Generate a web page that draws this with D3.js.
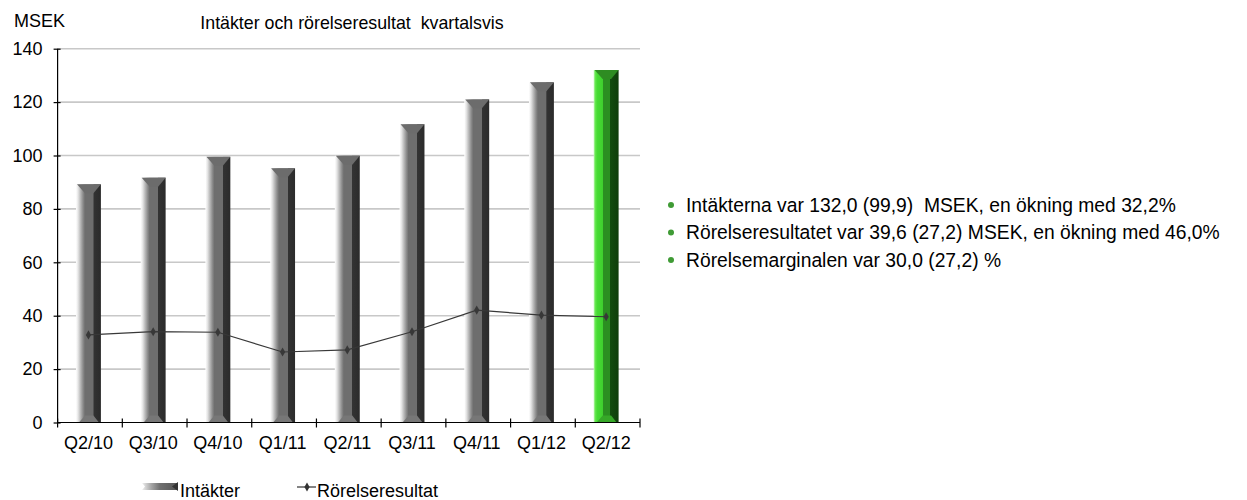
<!DOCTYPE html>
<html>
<head>
<meta charset="utf-8">
<script src="https://cdn.jsdelivr.net/npm/d3@7"></script>
<style>
  html, body { margin: 0; padding: 0; background: #fff; }
  svg { display: block; font-family: "Liberation Sans", Arial, sans-serif; }
</style>
</head>
<body>
<svg id="chart" width="1247" height="500"></svg>
<script>
const categories = ["Q2/10", "Q3/10", "Q4/10", "Q1/11", "Q2/11", "Q3/11", "Q4/11", "Q1/12", "Q2/12"];
const revenue = [89.2, 91.7, 99.5, 95.2, 99.9, 111.7, 121.0, 127.4, 132.0];
const operatingProfit = [32.8, 34.0, 33.8, 26.4, 27.2, 34.0, 42.1, 40.2, 39.6];
const yTicks = [0, 20, 40, 60, 80, 100, 120, 140];
const highlightCategory = "Q2/12";
const seriesNames = ["Intäkter", "Rörelseresultat"];
const bullets = [
  "Intäkterna var 132,0 (99,9)  MSEK, en ökning med 32,2%",
  "Rörelseresultatet var 39,6 (27,2) MSEK, en ökning med 46,0%",
  "Rörelsemarginalen var 30,0 (27,2) %"
];
const unitLabel = "MSEK";
const chartTitle = "Intäkter och rörelseresultat  kvartalsvis";

(function () {
const svg = d3.select("#chart");
const pL = 57.6, pR = 640, pT = 48.7, pB = 422.5;
const FONT = "Liberation Sans, Arial, sans-serif";

const x = d3.scaleBand().domain(categories).range([pL, pR]).paddingInner(0.615).paddingOuter(0.3075);
const y = d3.scaleLinear().domain([0, 140]).range([pB, pT]);

const defs = svg.append("defs");
function grad(id, stops) {
  const g = defs.append("linearGradient").attr("id", id).attr("x1", "0").attr("x2", "1").attr("y1", "0").attr("y2", "0");
  stops.forEach(s => g.append("stop").attr("offset", s[0]).attr("stop-color", s[1]));
}
grad("gGray", [[0, "#ffffff"], [0.08, "#e6e6e6"], [0.18, "#b8b8b8"], [0.28, "#8c8c8c"], [0.36, "#6e6e6e"], [0.70, "#6e6e6e"], [0.705, "#333333"], [1, "#2b2b2b"]]);
grad("gGreen", [[0, "#c8f7c0"], [0.06, "#66e850"], [0.14, "#47dc34"], [0.36, "#3fd02e"], [0.37, "#2b8f21"], [0.66, "#2b8f21"], [0.665, "#134c0f"], [1, "#0f3d0b"]]);
grad("gLegend", [[0, "#f0f0f0"], [0.25, "#a8a8a8"], [0.5, "#707070"], [1, "#555555"]]);

svg.append("g").selectAll("line").data(yTicks.filter(d => d > 0)).join("line")
  .attr("x1", pL).attr("x2", pR)
  .attr("y1", d => y(d)).attr("y2", d => y(d))
  .attr("stroke", "#c8c8c8").attr("stroke-width", 1.6);

const bw = x.bandwidth();
const bars = svg.append("g").selectAll("g").data(categories.map((c, i) => ({c, v: revenue[i]}))).join("g");
bars.each(function(d) {
  const g = d3.select(this);
  const hl = d.c === highlightCategory;
  const x0 = x(d.c) - 1.5, x1 = x0 + bw;
  const yt = y(d.v), yb = y(0);
  const fl = x0 + bw * 0.36, fr = x0 + bw * 0.70;
  g.append("rect").attr("x", x0).attr("y", yt).attr("width", bw).attr("height", yb - yt)
    .attr("fill", hl ? "url(#gGreen)" : "url(#gGray)");
  g.append("polygon").attr("points", [[x0 + 1, yt], [x1, yt], [fr, yt + 9], [fl, yt + 9]].map(p => p.join(",")).join(" "))
    .attr("fill", hl ? "#2e8c22" : "#6c6c6c");
  g.append("polygon").attr("points", [[fl, yb - 7], [fr, yb - 7], [x1 - 2, yb], [x0 + 3, yb]].map(p => p.join(",")).join(" "))
    .attr("fill", hl ? "#36a828" : "#777777");
});

const yAxis = d3.axisLeft(y).tickValues(yTicks).tickSize(4).tickPadding(11);
const gy = svg.append("g").attr("transform", `translate(${pL},0)`).call(yAxis);
gy.select(".domain").attr("d", `M0,${pT}V${pB}`).attr("stroke", "#000").attr("stroke-width", 1.2);
gy.selectAll(".tick line").attr("x1", 3).attr("stroke", "#000").attr("stroke-width", 1.2);
gy.selectAll(".tick text").attr("font-size", 18).attr("font-family", FONT).attr("fill", "#000");

const xAxis = d3.axisBottom(x).tickSize(0).tickPadding(14);
const gx = svg.append("g").attr("transform", `translate(0,${pB})`).call(xAxis);
gx.select(".domain").attr("d", `M${pL},0H${pR}`).attr("stroke", "#000").attr("stroke-width", 1.2);
gx.selectAll(".tick text").attr("font-size", 18).attr("font-family", FONT).attr("fill", "#000")
  .attr("dx", -1.5);
const boundaries = d3.range(categories.length + 1).map(i => pL + i * x.step());
gx.append("g").selectAll("line").data(boundaries).join("line")
  .attr("x1", d => d).attr("x2", d => d).attr("y1", -4).attr("y2", 5)
  .attr("stroke", "#000").attr("stroke-width", 1.2);

const line = d3.line().x((d, i) => x(categories[i]) + bw / 2 - 1.5).y(d => y(d));
svg.append("path").datum(operatingProfit).attr("d", line)
  .attr("fill", "none").attr("stroke", "#383838").attr("stroke-width", 1.2);
const diamond = d3.symbol().type(d3.symbolDiamond).size(24);
svg.append("g").selectAll("path").data(operatingProfit).join("path")
  .attr("transform", (d, i) => `translate(${x(categories[i]) + bw / 2 - 1.5},${y(d)})`)
  .attr("d", diamond).attr("fill", "#383838");

svg.append("text").attr("x", 14).attr("y", 27).attr("font-size", 18).text(unitLabel);
svg.append("text").attr("x", 352).attr("y", 29).attr("text-anchor", "middle").attr("font-size", 17.8)
  .attr("xml:space", "preserve").style("white-space", "pre").text(chartTitle);

const lg = svg.append("g");
lg.append("polygon").attr("points", "142,483 178,483 178,490 142,490 145,486.5")
  .attr("fill", "url(#gLegend)");
lg.append("polygon").attr("points", "172,486.5 178,482 178,491").attr("fill", "#333");
lg.append("text").attr("x", 180).attr("y", 497).attr("font-size", 18).text(seriesNames[0]);
lg.append("line").attr("x1", 297).attr("x2", 316).attr("y1", 487).attr("y2", 487).attr("stroke", "#333").attr("stroke-width", 1.2);
lg.append("path").attr("transform", "translate(307,487)").attr("d", diamond).attr("fill", "#333");
lg.append("text").attr("x", 317).attr("y", 497).attr("font-size", 18).text(seriesNames[1]);

const bl = svg.append("g").selectAll("g").data(bullets).join("g")
  .attr("transform", (d, i) => `translate(0,${205 + i * 27.5})`);
bl.append("circle").attr("cx", 671).attr("cy", 0).attr("r", 3).attr("fill", "#3f9b35");
bl.append("text").attr("x", 686).attr("y", 6.5).attr("font-size", 19.3)
  .attr("xml:space", "preserve").style("white-space", "pre").text(d => d);
})();
</script>
</body>
</html>
